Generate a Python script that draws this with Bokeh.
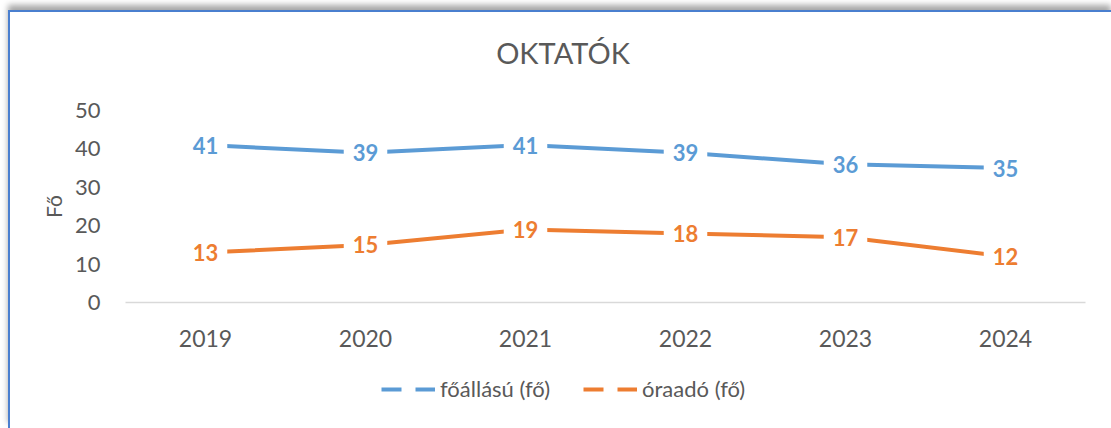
from bokeh.plotting import figure
from bokeh.layouts import column
from bokeh.models import FactorRange, Range1d, Legend, LegendItem, FixedTicker, Div
from bokeh.core.properties import value
from bokeh.embed import file_html
from bokeh.resources import INLINE

years = ["2019", "2020", "2021", "2022", "2023", "2024"]
foallasu = [41, 39, 41, 39, 36, 35]
oraado = [13, 15, 19, 18, 17, 12]
y_ticks = [0, 10, 20, 30, 40, 50]
title_text = "OKTATÓK"

BLUE = "#5B9BD5"
ORANGE = "#ED7D31"
GRAY = "#595959"
FONT = "Lato"

title_div = Div(text=('<div style="width:1101px;height:60px;box-sizing:border-box;'
                      'padding:23px 0 0 5px;text-align:center;line-height:36px;'
                      'font-family:Lato;font-size:29px;color:#595959;">'
                      + title_text + '</div>'),
                width=1101, height=60, margin=0)

p = figure(width=1101, height=300, x_range=FactorRange(*years, range_padding=0),
           y_range=Range1d(0, 50), output_backend="svg", toolbar_location=None,
           min_border_left=115, min_border_right=26, min_border_top=38, min_border_bottom=70)

p.outline_line_color = None
p.xgrid.visible = False
p.ygrid.visible = False

xa = p.xaxis[0]
xa.axis_line_color = "#D9D9D9"
xa.axis_line_width = 1.5
xa.major_tick_line_color = None
xa.minor_tick_line_color = None
xa.major_label_standoff = 21
xa.major_label_text_font = FONT
xa.major_label_text_font_size = "23px"
xa.major_label_text_color = GRAY

ya = p.yaxis[0]
ya.ticker = FixedTicker(ticks=y_ticks)
ya.axis_line_color = None
ya.major_tick_line_color = None
ya.minor_tick_line_color = None
ya.major_label_standoff = 19
ya.major_label_text_font = FONT
ya.major_label_text_font_size = "22px"
ya.major_label_text_color = GRAY
ya.axis_label = "Fő"
ya.axis_label_standoff = 6
ya.axis_label_text_font = FONT
ya.axis_label_text_font_size = "21px"
ya.axis_label_text_font_style = "normal"
ya.axis_label_text_color = GRAY

for vals, col in ((foallasu, BLUE), (oraado, ORANGE)):
    p.line(x=years, y=vals, line_color=col, line_width=4)
    p.text(x=years, y=vals, text=[str(v) for v in vals], text_align="center",
           text_baseline="middle", text_font=value(FONT), text_font_style="bold",
           text_font_size="22px", text_color=col, background_fill_color="white",
           padding=9)

# legend strip (proxy lines lie outside the strip's visible range)
p2 = figure(width=1101, height=56, x_range=Range1d(0, 1), y_range=Range1d(0, 1),
            output_backend="svg", toolbar_location=None,
            min_border=0, min_border_left=0, min_border_right=0,
            min_border_top=0, min_border_bottom=0)
p2.axis.visible = False
p2.grid.visible = False
p2.outline_line_color = None

lb = p2.line(x=[-5, -4], y=[-5, -4], line_color=BLUE, line_width=4, line_dash="20 14")
lo = p2.line(x=[-5, -4], y=[-5, -4], line_color=ORANGE, line_width=4, line_dash="20 14")

legend = Legend(items=[LegendItem(label="főállású (fő)", renderers=[lb]),
                       LegendItem(label="óraadó (fő)", renderers=[lo])],
                orientation="horizontal", location=(256, 26),
                glyph_width=54, glyph_height=20, label_standoff=5, spacing=33,
                padding=0, margin=0, border_line_color=None, background_fill_color=None,
                label_text_font=FONT, label_text_font_size="22px", label_text_color=GRAY)
p2.add_layout(legend, "center")

layout = column(title_div, p, p2, spacing=0, margin=(10, 0, 0, 8),
                styles={"border-top": "2px solid #4A7FCF", "border-left": "2px solid #4A7FCF",
                        "box-shadow": "0px -5px 6px rgba(0,0,0,0.35)",
                        "background-color": "white"})

open("out.html", "w").write(file_html(layout, INLINE))
